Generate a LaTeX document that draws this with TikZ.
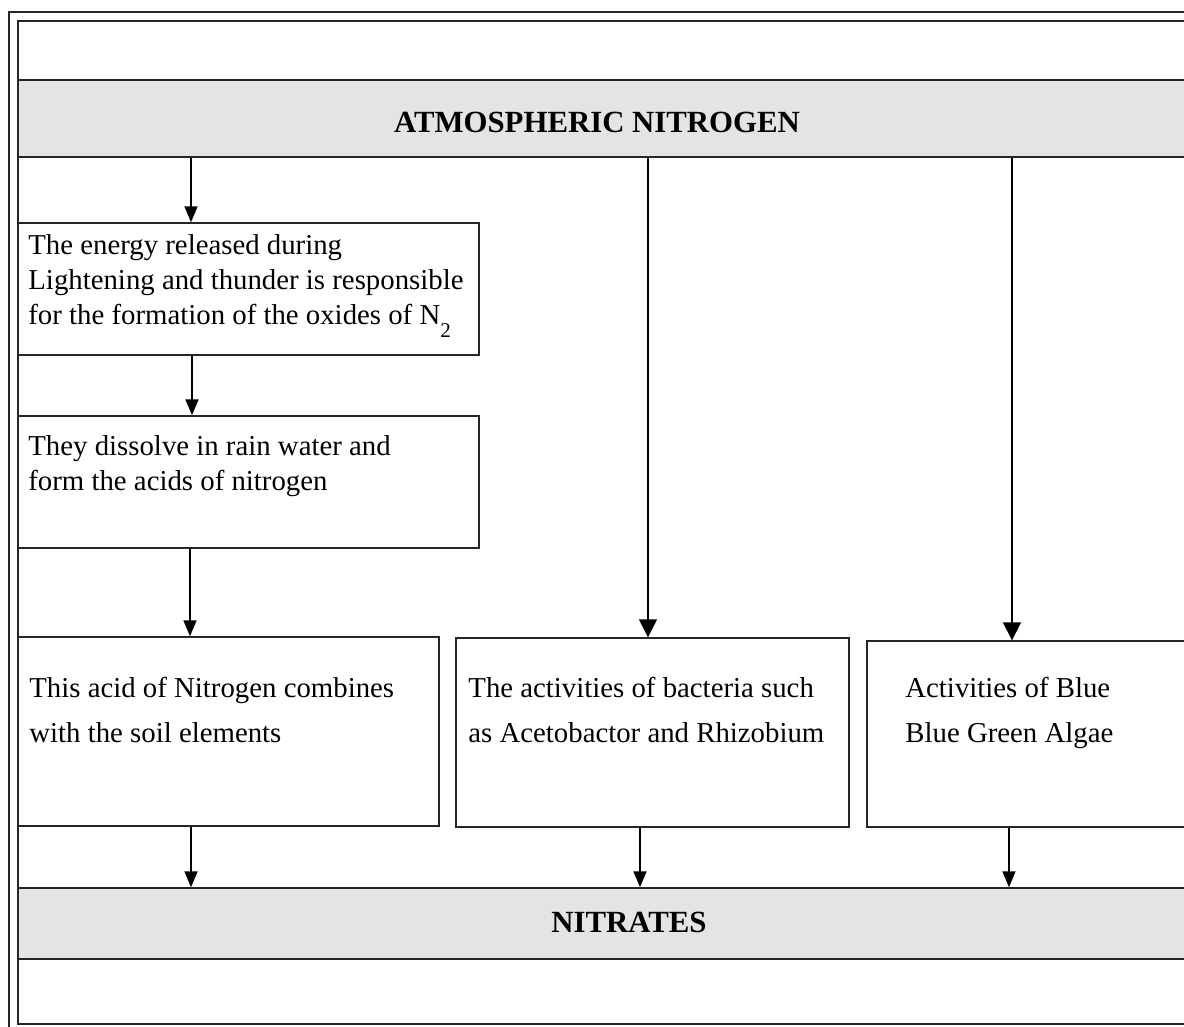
\documentclass[tikz,border=0pt]{standalone}
\usepackage{fontspec}
\setmainfont{Liberation Serif}
\usetikzlibrary{arrows.meta,fit}
\definecolor{bandgray}{RGB}{228,228,228}
\newcommand{\lowtwo}{\raisebox{-0.45em}{\fontsize{10.5}{10.5}\selectfont 2}}

\begin{document}
\begin{tikzpicture}[x=0.5pt, y=-0.5pt,
  every node/.style={inner sep=0pt},
  box/.style={draw=black!85, line width=0.7pt},
  band/.style={box, fill=bandgray},
  head/.style={anchor=base, font=\fontsize{15.4}{18}\selectfont\bfseries},
  txt/.style={anchor=base west, align=left, font=\fontsize{14.4}{17.5}\selectfont},
  wide/.style={font=\fontsize{14.4}{22.5}\selectfont},
  flow/.style={-{Triangle[width=6.5pt,length=8pt]}, line width=0.8pt},
  bigflow/.style={flow, -{Triangle[width=9pt,length=9pt]}}]
\useasboundingbox (0,0) rectangle (1184,1027);
\clip (0,0) rectangle (1184,1027);
% Double frame
\draw[box] (9,12) rectangle (1200,1034);
\draw[box] (18,21) rectangle (1200,1024);
% Top and bottom bands
\node[band, fit={(18,80) (1200,157)}] (atm) {};
\node[head] (atmtext) at (597,133) {ATMOSPHERIC NITROGEN};
\node[band, fit={(18,888) (1200,959)}] (nitrates) {};
\node[head] (nitratestext) at (629,932) {NITRATES};
% Left column (text placed by its last line)
\node[box, fit={(18,223) (479,355)}] (energy) {};
\node[txt] (energytext) at (28,325) {The energy released during\\Lightening and thunder is responsible\\for the formation of the oxides of N\lowtwo};
\node[box, fit={(18,416) (479,548)}] (rain) {};
\node[txt] (raintext) at (28,490) {They dissolve in rain water and\\form the acids of nitrogen};
% Lower row (3 boxes)
\node[box, fit={(18,637) (439,826)}] (soil) {};
\node[txt, wide] (soiltext) at (29,742) {This acid of Nitrogen combines\\with the soil elements};
\node[box, fit={(456,638) (849,827)}] (bacteria) {};
\node[txt, wide] (bacteriatext) at (468,742) {The activities of bacteria such\\as Acetobactor and Rhizobium};
\node[box, fit={(867,641) (1200,827)}] (algae) {};
\node[txt, wide] (algaetext) at (905,742) {Activities of Blue\\Blue Green Algae};
% All arrows
\foreach \a/\b/\x in {atm/energy/191, energy/rain/192, rain/soil/190, soil/nitrates/191, bacteria/nitrates/640, algae/nitrates/1009}
    \draw[flow] (\a.south -| \x,0) -- (\b.north -| \x,0);
\foreach \b/\x in {bacteria/648, algae/1012}
    \draw[bigflow] (atm.south -| \x,0) -- (\b.north -| \x,0);
\end{tikzpicture}
\end{document}
